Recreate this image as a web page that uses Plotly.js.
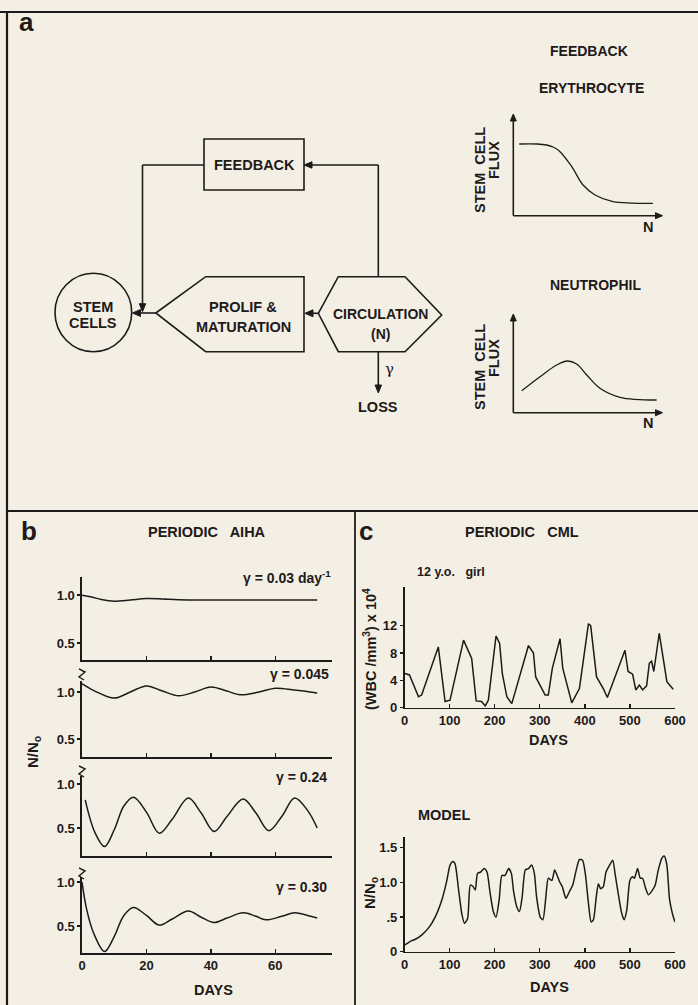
<!DOCTYPE html>
<html>
<head>
<meta charset="utf-8">
<script src="https://cdn.plot.ly/plotly-3.0.1.min.js"></script>
<style>html,body{margin:0;padding:0;background:#f4efe5;}</style>
</head>
<body>
<div id="chart" style="width:698px;height:1005px;"></div>
<script>
// ---------------- DATA ----------------
// Panel a: schematic feedback functions (normalised N vs stem cell flux)
const erythroN    = [0.04, 0.16, 0.225, 0.268, 0.315, 0.394, 0.470, 0.551, 0.672, 0.80, 0.941];
const erythroFlux = [0.712, 0.712, 0.702, 0.682, 0.636, 0.487, 0.305, 0.206, 0.139, 0.125, 0.123];
const neutroN     = [0.057, 0.180, 0.292, 0.364, 0.427, 0.495, 0.584, 0.719, 0.966];
const neutroFlux  = [0.225, 0.368, 0.488, 0.529, 0.498, 0.386, 0.250, 0.158, 0.130];

// Panel b: periodic AIHA model, N/N0 vs days
const aihaDays1 = [0, 3, 6, 10, 15, 20, 25, 30, 40, 50, 60, 73];
const aiha1     = [1.0, 0.98, 0.955, 0.937, 0.95, 0.965, 0.96, 0.952, 0.95, 0.95, 0.95, 0.95];
const aihaDays2 = [0, 4, 10, 15, 20, 25, 30, 35, 40, 45, 49, 55, 60, 66, 73];
const aiha2     = [1.09, 1.01, 0.935, 1.0, 1.065, 1.01, 0.96, 1.0, 1.053, 1.01, 0.97, 1.0, 1.04, 1.02, 0.99];
const aihaDays3 = [1, 4, 7, 10, 13, 16, 20, 24, 28, 33, 37, 41, 45, 50, 54, 58, 62, 66, 70, 73];
const aiha3     = [0.82, 0.45, 0.29, 0.48, 0.75, 0.85, 0.68, 0.44, 0.60, 0.84, 0.67, 0.46, 0.63, 0.83, 0.67, 0.47, 0.63, 0.84, 0.70, 0.50];
const aihaDays4 = [0, 1.5, 3.6, 7, 10, 13, 16, 20, 24, 28, 33, 37, 41, 45, 50, 54, 57, 62, 66, 70, 73];
const aiha4     = [1.0, 0.68, 0.42, 0.21, 0.38, 0.62, 0.71, 0.62, 0.51, 0.58, 0.67, 0.60, 0.54, 0.59, 0.65, 0.61, 0.57, 0.61, 0.65, 0.62, 0.59];
const aihaGamma = ['γ = 0.03 day<sup>-1</sup>', 'γ = 0.045', 'γ = 0.24', 'γ = 0.30'];

// Panel c: periodic CML, 12 y.o. girl, WBC (x10^4 /mm3) vs days
const cmlDays = [1, 11, 31, 38, 75, 90, 101, 131, 149, 159, 171, 179, 186, 203, 211, 217, 227, 238, 275, 286, 291, 312, 319, 328, 345, 351, 371, 388, 408, 413, 426, 441, 450, 489, 496, 506, 513, 521, 528, 537, 543, 548, 553, 565, 582, 596];
const cmlWBC  = [5.0, 4.8, 1.6, 1.85, 8.9, 0.9, 1.1, 9.9, 7.2, 1.0, 0.9, 0.25, 1.1, 10.5, 9.4, 5.0, 1.6, 0.6, 9.1, 8.0, 4.5, 1.85, 1.85, 5.8, 10.1, 5.8, 0.7, 2.8, 12.3, 12.0, 4.5, 2.8, 1.5, 8.4, 5.3, 4.9, 2.6, 3.3, 2.6, 3.2, 6.5, 6.8, 5.3, 10.9, 3.8, 2.7];

// Panel c: model, N/N0 vs days
const modelDays = [1, 13, 24, 38, 53, 68, 83, 94, 101, 107, 112, 120, 127, 133, 140, 146, 152, 157, 162, 169, 177, 183, 190, 197, 203, 210, 216, 223, 231, 237, 242, 249, 255, 261, 268, 275, 282, 288, 293, 301, 307, 313, 319, 327, 333, 338, 344, 350, 358, 366, 373, 381, 388, 395, 401, 408, 414, 419, 425, 430, 435, 441, 447, 455, 462, 467, 474, 482, 487, 493, 500, 506, 510, 517, 523, 528, 535, 541, 548, 556, 563, 571, 576, 582, 588, 595, 600];
const modelN    = [0.10, 0.15, 0.18, 0.24, 0.34, 0.50, 0.75, 1.03, 1.25, 1.30, 1.27, 0.89, 0.55, 0.41, 0.48, 0.96, 0.94, 0.89, 1.13, 1.15, 1.20, 1.15, 0.84, 0.58, 0.50, 0.75, 1.10, 1.10, 1.20, 1.13, 0.87, 0.65, 0.58, 0.79, 1.18, 1.20, 1.25, 1.13, 0.79, 0.50, 0.46, 0.75, 1.06, 1.03, 1.18, 1.11, 1.01, 0.94, 0.77, 0.87, 0.96, 1.18, 1.33, 1.32, 1.13, 0.70, 0.43, 0.46, 0.77, 0.98, 0.91, 0.94, 1.15, 1.25, 1.32, 1.13, 0.84, 0.55, 0.46, 0.60, 1.03, 1.08, 1.06, 1.20, 1.06, 1.06, 0.91, 0.82, 0.87, 0.96, 1.18, 1.35, 1.38, 1.25, 0.75, 0.53, 0.43];

// Tick labels
const aihaTickVals = [0.5, 1.0];
const aihaTickText = ['0.5', '1.0'];
const dayTicks = [0, 20, 40, 60];
const cmlTickVals = [0, 4, 8, 12];
const modelTickVals = [0, 0.5, 1.0, 1.5];
const modelTickText = ['0', '.5', '1.0', '1.5'];
const cmlDayTicks = [0, 100, 200, 300, 400, 500, 600];

// ---------------- LAYOUT HELPERS ----------------
const W = 698, H = 1005;
const ink = '#1e1a19';
const bg = '#f4efe5';
const FAM = 'Liberation Sans, Arial, Helvetica, sans-serif';
const X = p => p / W;
const Y = p => 1 - p / H;
const tickFont = {family: FAM, size: 13, color: ink, weight: 'bold'};

function xAx(l, r, range, opts) {
  return Object.assign({domain: [X(l), X(r)], range: range, showline: true, linecolor: ink, linewidth: 1.6,
    showgrid: false, zeroline: false, ticks: 'inside', ticklen: 4, tickwidth: 1.4, tickcolor: ink,
    tickfont: tickFont, fixedrange: true}, opts);
}
function yAx(b, t, range, opts) {
  return Object.assign({domain: [Y(b), Y(t)], range: range, showline: true, linecolor: ink, linewidth: 1.6,
    showgrid: false, zeroline: false, ticks: 'outside', ticklen: 3, tickwidth: 1.4, tickcolor: ink,
    tickfont: tickFont, fixedrange: true}, opts);
}
function line(x0, y0, x1, y1, w) {
  return {type: 'line', xref: 'paper', yref: 'paper', x0: X(x0), y0: Y(y0), x1: X(x1), y1: Y(y1),
    line: {color: ink, width: w || 1.6}};
}
function path(pts, closed, w, fill) {
  let d = pts.map((p, i) => (i ? 'L ' : 'M ') + X(p[0]).toFixed(5) + ',' + Y(p[1]).toFixed(5)).join(' ');
  if (closed) d += ' Z';
  const s = {type: 'path', xref: 'paper', yref: 'paper', path: d, line: {color: ink, width: w || 1.6}};
  if (fill) s.fillcolor = ink;
  return s;
}
function txt(t, x, y, size, opts) {
  return Object.assign({text: t, xref: 'paper', yref: 'paper', x: X(x), y: Y(y), showarrow: false,
    xanchor: 'center', yanchor: 'middle', font: {family: FAM, size: size || 14, color: ink, weight: 'bold'}}, opts);
}
// arrow as a line plus a filled triangular head (pixel coordinates)
function arrow(tipX, tipY, tailX, tailY, len, half) {
  len = len || 8; half = half || 3.2;
  const dx = tipX - tailX, dy = tipY - tailY, n = Math.hypot(dx, dy);
  const ux = dx / n, uy = dy / n;
  const bx = tipX - ux * len, by = tipY - uy * len;
  return [
    line(tailX, tailY, bx, by),
    path([[tipX, tipY], [bx - uy * half, by + ux * half], [bx + uy * half, by - ux * half]], true, 1, true)
  ];
}
function brk(x, y) { // axis break squiggle
  return path([[x - 3, y], [x + 3, y + 3], [x - 3, y + 8], [x + 2, y + 11]], false, 1.4);
}

// ---------------- TRACES ----------------
const L = {color: ink, width: 1.5};
const data = [
  {x: aihaDays1, y: aiha1, xaxis: 'x', yaxis: 'y', mode: 'lines', line: Object.assign({shape: 'spline', smoothing: 1}, L)},
  {x: aihaDays2, y: aiha2, xaxis: 'x2', yaxis: 'y2', mode: 'lines', line: Object.assign({shape: 'spline', smoothing: 1}, L)},
  {x: aihaDays3, y: aiha3, xaxis: 'x3', yaxis: 'y3', mode: 'lines', line: Object.assign({shape: 'spline', smoothing: 1}, L)},
  {x: aihaDays4, y: aiha4, xaxis: 'x4', yaxis: 'y4', mode: 'lines', line: Object.assign({shape: 'spline', smoothing: 1}, L)},
  {x: cmlDays, y: cmlWBC, xaxis: 'x5', yaxis: 'y5', mode: 'lines', line: L},
  {x: modelDays, y: modelN, xaxis: 'x6', yaxis: 'y6', mode: 'lines', line: Object.assign({shape: 'spline', smoothing: 0.6}, L)},
  {x: erythroN, y: erythroFlux, xaxis: 'x7', yaxis: 'y7', mode: 'lines', line: Object.assign({shape: 'spline', smoothing: 1}, {color: ink, width: 1.3})},
  {x: neutroN, y: neutroFlux, xaxis: 'x8', yaxis: 'y8', mode: 'lines', line: Object.assign({shape: 'spline', smoothing: 1}, {color: ink, width: 1.3})}
];
data.forEach(t => { t.hoverinfo = 'skip'; t.showlegend = false; });

const bx = [82, 332], bRange = [0, 77.6];
const shapes = [
  // frame and panel dividers
  line(0, 12, W, 12, 2.2),
  line(7, 12, 7, H, 2.2),
  line(7, 511, W, 511, 1.8),
  line(355, 511, 355, H, 1.8),
  // feedback box
  {type: 'rect', xref: 'paper', yref: 'paper', x0: X(204), x1: X(304), y0: Y(190), y1: Y(139), line: {color: ink, width: 1.6}},
  line(204, 165, 142.5, 165),
  line(378.3, 276.7, 378.3, 165),
  // stem cells circle
  {type: 'circle', xref: 'paper', yref: 'paper', x0: X(55), x1: X(131.7), y0: Y(351.7), y1: Y(273.3), line: {color: ink, width: 1.6}},
  // proliferation & maturation pentagon
  path([[155.8, 313], [205.7, 276.7], [304, 276.7], [304, 351.7], [205.7, 351.7]], true),
  // circulation hexagon
  path([[318.3, 313.3], [338.3, 276.7], [405, 276.7], [441.7, 315], [405, 351.7], [338.3, 351.7]], true),
  // axis breaks
  brk(82, 669), brk(82, 766), brk(82, 868)
].concat(
  arrow(142.5, 311.7, 142.5, 165),
  arrow(304, 165, 378.3, 165),
  arrow(132.5, 313, 155.8, 313, 8, 3.5),
  arrow(305, 313.3, 318.3, 313.3, 8, 3.5),
  arrow(378.3, 393, 378.3, 351.7),
  arrow(513.3, 114, 513.3, 215.7, 7, 3),
  arrow(662.5, 215.7, 513.3, 215.7, 7, 3),
  arrow(513.3, 314, 513.3, 412.7, 7, 3),
  arrow(662.5, 412.7, 513.3, 412.7, 7, 3)
);

const layout = {
  width: W, height: H, margin: {l: 0, r: 0, t: 0, b: 0},
  paper_bgcolor: bg, plot_bgcolor: 'rgba(0,0,0,0)', showlegend: false,
  xaxis:  xAx(bx[0], bx[1], bRange, {anchor: 'y',  tickvals: [20, 40, 60], showticklabels: false}),
  yaxis:  yAx(660, 577, [0.323, 1.19], {anchor: 'x', tickvals: aihaTickVals, ticktext: aihaTickText}),
  xaxis2: xAx(bx[0], bx[1], bRange, {anchor: 'y2', tickvals: [20, 40, 60], showticklabels: false}),
  yaxis2: yAx(757, 681, [0.309, 1.117], {anchor: 'x2', tickvals: aihaTickVals, ticktext: aihaTickText}),
  xaxis3: xAx(bx[0], bx[1], bRange, {anchor: 'y3', tickvals: [20, 40, 60], showticklabels: false}),
  yaxis3: yAx(856, 776, [0.182, 1.091], {anchor: 'x3', tickvals: aihaTickVals, ticktext: aihaTickText}),
  xaxis4: xAx(bx[0], bx[1], bRange, {anchor: 'y4', tickvals: dayTicks}),
  yaxis4: yAx(953, 877, [0.193, 1.057], {anchor: 'x4', tickvals: aihaTickVals, ticktext: aihaTickText}),
  xaxis5: xAx(404.5, 675, [0, 600], {anchor: 'y5', tickvals: cmlDayTicks}),
  yaxis5: yAx(707.7, 587, [0, 17.67], {anchor: 'x5', tickvals: cmlTickVals}),
  xaxis6: xAx(404.5, 675, [0, 600], {anchor: 'y6', tickvals: cmlDayTicks}),
  yaxis6: yAx(951.7, 837, [0, 1.655], {anchor: 'x6', tickvals: modelTickVals, ticktext: modelTickText}),
  xaxis7: {domain: [X(513.3), X(661.7)], range: [0, 1], visible: false, fixedrange: true, anchor: 'y7'},
  yaxis7: {domain: [Y(215.7), Y(115)], range: [0, 1], visible: false, fixedrange: true, anchor: 'x7'},
  xaxis8: {domain: [X(513.3), X(661.7)], range: [0, 1], visible: false, fixedrange: true, anchor: 'y8'},
  yaxis8: {domain: [Y(412.7), Y(315)], range: [0, 1], visible: false, fixedrange: true, anchor: 'x8'},
  shapes: shapes,
  annotations: [
    // panel labels
    txt('a', 26, 22, 26), txt('b', 29, 531, 26), txt('c', 366, 531, 26),
    // diagram
    txt('FEEDBACK', 254, 165, 14.5),
    txt('STEM', 93.3, 307, 14.5), txt('CELLS', 93.3, 323, 14.5),
    txt('PROLIF &', 243, 307, 14.5), txt('MATURATION', 243, 327, 14.5),
    txt('CIRCULATION', 380.7, 314, 14), txt('(N)', 380.7, 334, 14),
    txt('γ', 389, 369, 15, {font: {family: 'DejaVu Serif, serif', size: 15, color: ink}}),
    txt('LOSS', 378.3, 407, 14.5),
    // feedback panel
    txt('FEEDBACK', 589, 51, 14),
    txt('ERYTHROCYTE', 591, 88, 14),
    txt('NEUTROPHIL', 595, 285, 14),
    txt('STEM  CELL', 480, 170, 14.5, {textangle: -90}),
    txt('FLUX', 494, 160, 14.5, {textangle: -90}),
    txt('STEM  CELL', 480, 367, 14.5, {textangle: -90}),
    txt('FLUX', 494, 358, 14.5, {textangle: -90}),
    txt('N', 648, 227, 14.5), txt('N', 648, 423, 14.5),
    // panel b
    txt('PERIODIC   AIHA', 207, 532, 14.5),
    txt(aihaGamma[0], 333, 577, 14, {xanchor: 'right'}),
    txt(aihaGamma[1], 331, 674, 14, {xanchor: 'right'}),
    txt(aihaGamma[2], 329, 777, 14, {xanchor: 'right'}),
    txt(aihaGamma[3], 329, 887, 14, {xanchor: 'right'}),
    txt('N/N<sub>o</sub>', 33, 752, 15, {textangle: -90}),
    txt('DAYS', 213, 990, 14.5),
    // panel c
    txt('PERIODIC   CML', 522, 532, 14.5),
    txt('12 y.o.   girl', 451, 572, 12.5),
    txt('(WBC /mm<sup>3</sup>) x 10<sup>4</sup>', 370, 649, 14.5, {textangle: -90}),
    txt('DAYS', 548, 740, 14.5),
    txt('MODEL', 445, 815, 14.5),
    txt('N/N<sub>o</sub>', 370, 893, 15, {textangle: -90}),
    txt('DAYS', 549, 987, 14.5)
  ]
};

Plotly.newPlot('chart', data, layout, {staticPlot: true, displayModeBar: false});
</script>
</body>
</html>
